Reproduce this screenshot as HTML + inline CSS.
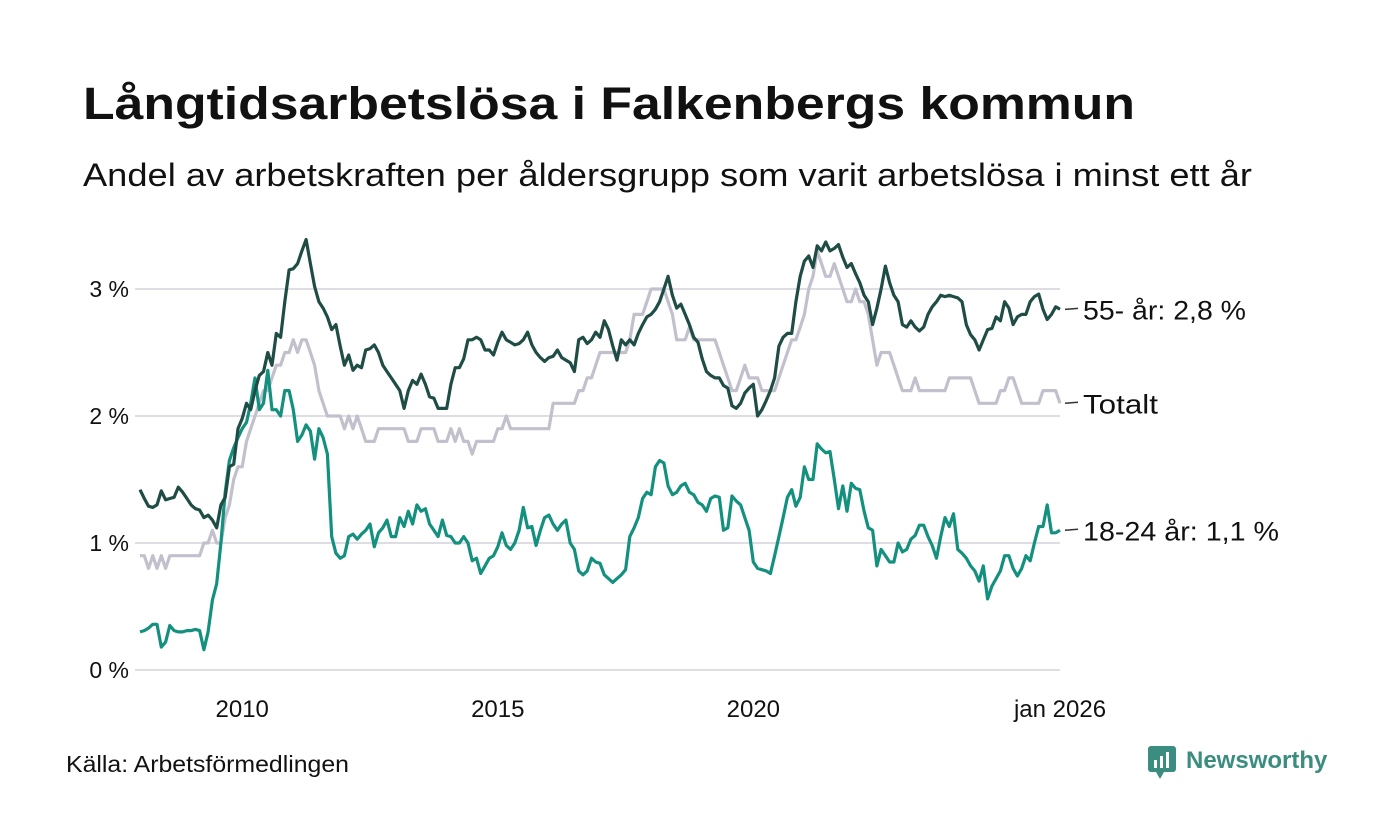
<!DOCTYPE html>
<html><head><meta charset="utf-8">
<style>
html,body{margin:0;padding:0;background:#fff;}
svg{display:block;font-family:"Liberation Sans",sans-serif;}
</style></head>
<body>
<svg id="chart" width="1400" height="840" viewBox="0 0 1400 840" xmlns="http://www.w3.org/2000/svg">
<rect width="1400" height="840" fill="#fff"/>
<text x="83" y="119" font-size="45" font-weight="bold" fill="#111" textLength="1052" lengthAdjust="spacingAndGlyphs">Långtidsarbetslösa i Falkenbergs kommun</text>
<text x="83" y="186" font-size="32" fill="#111" textLength="1169" lengthAdjust="spacingAndGlyphs">Andel av arbetskraften per åldersgrupp som varit arbetslösa i minst ett år</text>
<g id="grid"></g>
<g id="yticks"></g>
<g id="xticks"></g>
<g id="series"></g>
<g id="labels"></g>
<text x="66" y="772" font-size="23" fill="#111" textLength="283" lengthAdjust="spacingAndGlyphs">Källa: Arbetsförmedlingen</text>
<g>
<rect x="1148" y="746" width="28" height="26" rx="3" fill="#3a8d7f"/>
<polygon points="1156,772 1164,772 1160,779" fill="#3a8d7f"/>
<rect x="1154" y="760" width="3" height="8" fill="#fff"/><rect x="1160" y="756" width="3" height="12" fill="#fff"/><rect x="1166" y="752" width="3" height="16" fill="#fff"/>
<text x="1186" y="768" font-size="24" font-weight="bold" fill="#3a8d7f">Newsworthy</text>
</g>
</svg>
<script>
const startYear = 2008;
const yTicks = [0, 1, 2, 3];
const xTickYears = [2010, 2015, 2020];
const xLastLabel = "jan 2026";
const seriesNames = ["Totalt", "55- år", "18-24 år"];
const totalt = [
0.9,0.9,0.8,0.9,0.8,0.9,0.8,0.9,0.9,0.9,0.9,0.9,
0.9,0.9,0.9,1.0,1.0,1.1,1.0,1.0,1.2,1.3,1.5,1.6,
1.6,1.8,1.9,2.0,2.1,2.2,2.2,2.3,2.4,2.4,2.5,2.5,
2.6,2.5,2.6,2.6,2.5,2.4,2.2,2.1,2.0,2.0,2.0,2.0,
1.9,2.0,1.9,2.0,1.9,1.8,1.8,1.8,1.9,1.9,1.9,1.9,
1.9,1.9,1.9,1.8,1.8,1.8,1.9,1.9,1.9,1.9,1.8,1.8,
1.8,1.9,1.8,1.9,1.8,1.8,1.7,1.8,1.8,1.8,1.8,1.8,
1.9,1.9,2.0,1.9,1.9,1.9,1.9,1.9,1.9,1.9,1.9,1.9,
1.9,2.1,2.1,2.1,2.1,2.1,2.1,2.2,2.2,2.3,2.3,2.4,
2.5,2.5,2.5,2.5,2.5,2.5,2.5,2.6,2.8,2.8,2.8,2.9,
3.0,3.0,3.0,3.0,2.9,2.8,2.6,2.6,2.6,2.7,2.6,2.6,
2.6,2.6,2.6,2.6,2.5,2.4,2.3,2.2,2.2,2.3,2.4,2.3,
2.3,2.3,2.2,2.2,2.2,2.2,2.3,2.4,2.5,2.6,2.6,2.7,
2.8,3.0,3.1,3.3,3.2,3.1,3.1,3.2,3.1,3.0,2.9,2.9,
3.0,2.9,2.9,2.8,2.6,2.4,2.5,2.5,2.5,2.4,2.3,2.2,
2.2,2.2,2.3,2.2,2.2,2.2,2.2,2.2,2.2,2.2,2.3,2.3,
2.3,2.3,2.3,2.3,2.2,2.1,2.1,2.1,2.1,2.1,2.2,2.2,
2.3,2.3,2.2,2.1,2.1,2.1,2.1,2.1,2.2,2.2,2.2,2.2,
2.1];
const age55 = [
1.42,1.35,1.29,1.28,1.3,1.41,1.34,1.35,1.36,1.44,1.4,1.35,
1.3,1.27,1.26,1.2,1.22,1.18,1.12,1.3,1.36,1.6,1.62,1.9,
1.98,2.1,2.05,2.2,2.32,2.35,2.5,2.4,2.65,2.62,2.9,3.15,
3.16,3.2,3.3,3.39,3.2,3.02,2.9,2.85,2.78,2.68,2.72,2.55,
2.4,2.48,2.36,2.4,2.38,2.52,2.53,2.56,2.5,2.4,2.35,2.3,
2.25,2.2,2.06,2.2,2.28,2.25,2.33,2.25,2.15,2.14,2.06,2.06,
2.06,2.25,2.38,2.38,2.45,2.6,2.6,2.62,2.6,2.52,2.52,2.48,
2.58,2.66,2.6,2.58,2.56,2.57,2.6,2.66,2.56,2.5,2.46,2.43,
2.46,2.47,2.52,2.46,2.44,2.42,2.35,2.6,2.62,2.57,2.6,2.66,
2.62,2.75,2.68,2.55,2.44,2.6,2.56,2.6,2.56,2.65,2.72,2.78,
2.8,2.84,2.9,3.0,3.1,2.95,2.85,2.88,2.8,2.72,2.62,2.58,
2.45,2.35,2.32,2.3,2.3,2.24,2.22,2.08,2.06,2.1,2.18,2.22,
2.25,2.0,2.05,2.12,2.2,2.3,2.55,2.62,2.65,2.65,2.9,3.1,
3.22,3.26,3.17,3.34,3.3,3.37,3.3,3.32,3.35,3.25,3.17,3.2,
3.12,3.05,2.95,2.9,2.72,2.85,3.0,3.18,3.05,2.95,2.9,2.72,
2.7,2.75,2.7,2.67,2.7,2.8,2.86,2.9,2.95,2.94,2.95,2.94,
2.93,2.9,2.72,2.64,2.6,2.52,2.6,2.68,2.69,2.78,2.75,2.9,
2.85,2.72,2.78,2.8,2.8,2.9,2.94,2.96,2.84,2.76,2.8,2.86,
2.84];
const age1824 = [
0.3,0.31,0.33,0.36,0.36,0.18,0.22,0.35,0.31,0.3,0.3,0.31,
0.31,0.32,0.31,0.16,0.3,0.55,0.68,1.0,1.4,1.65,1.75,1.83,
1.9,1.95,2.1,2.3,2.05,2.1,2.36,2.05,2.05,2.0,2.2,2.2,
2.05,1.8,1.85,1.93,1.88,1.66,1.9,1.83,1.7,1.05,0.92,0.88,
0.9,1.05,1.07,1.03,1.07,1.1,1.15,0.97,1.08,1.12,1.18,1.05,
1.05,1.2,1.13,1.25,1.15,1.3,1.25,1.27,1.15,1.1,1.05,1.18,
1.06,1.05,1.0,1.0,1.05,1.0,0.86,0.88,0.76,0.82,0.88,0.9,
0.97,1.08,0.98,0.95,1.0,1.1,1.28,1.12,1.13,0.98,1.1,1.2,
1.22,1.15,1.1,1.15,1.18,1.0,0.95,0.78,0.75,0.78,0.88,0.85,
0.84,0.75,0.72,0.69,0.72,0.75,0.79,1.05,1.12,1.2,1.35,1.4,
1.38,1.6,1.65,1.63,1.45,1.38,1.4,1.45,1.47,1.4,1.38,1.32,
1.3,1.25,1.35,1.37,1.36,1.1,1.12,1.37,1.33,1.3,1.2,1.1,
0.85,0.8,0.79,0.78,0.76,0.9,1.05,1.2,1.36,1.42,1.29,1.36,
1.6,1.5,1.5,1.78,1.74,1.71,1.72,1.5,1.27,1.45,1.25,1.47,
1.43,1.42,1.25,1.12,1.1,0.82,0.95,0.9,0.85,0.85,1.0,0.93,
0.95,1.03,1.06,1.14,1.14,1.05,0.98,0.88,1.05,1.2,1.13,1.23,
0.95,0.92,0.88,0.82,0.78,0.7,0.82,0.56,0.66,0.72,0.78,0.9,
0.9,0.8,0.74,0.8,0.9,0.86,1.0,1.13,1.13,1.3,1.08,1.08,
1.1];
const endLabels = ["55- år: 2,8 %", "Totalt", "18-24 år: 1,1 %"];
const endLabelWidths = [163, 75, 196];

const NS = "http://www.w3.org/2000/svg";
const X0 = 140, X1 = 1060, Y0 = 670, PXPCT = 127;
const nMonths = totalt.length;
function xScale(i){ return X0 + (X1 - X0) * i / (nMonths - 1); }
function xYear(y){ return xScale((y - startYear) * 12); }
function yScale(v){ return Y0 - v * PXPCT; }
function mk(tag, attrs, parent){ const e = document.createElementNS(NS, tag); for (const k in attrs) e.setAttribute(k, attrs[k]); parent.appendChild(e); return e; }

const grid = document.getElementById('grid'), yt = document.getElementById('yticks'), xt = document.getElementById('xticks');
yTicks.forEach(v => {
  const l = mk('line', {x1: 135, x2: 1060, y1: yScale(v), y2: yScale(v), stroke: '#dedde3', 'stroke-width': 2}, grid);
  
  
  const t = mk('text', {x: 129, y: yScale(v) + 8, 'font-size': 23, 'text-anchor': 'end', fill: '#111'}, yt);
  t.textContent = v + ' %';
  
  
});
xTickYears.forEach(y => {
  const t = mk('text', {x: xYear(y), y: 717, 'font-size': 24, 'text-anchor': 'middle', fill: '#111'}, xt);
  t.textContent = y;
  
  
});
const tl = mk('text', {x: xScale(nMonths - 1), y: 717, 'font-size': 24, 'text-anchor': 'middle', fill: '#111'}, xt);
tl.textContent = xLastLabel;



const sg = document.getElementById('series');
function drawLine(arr, color, name){
  const d = arr.map((v, i) => (i ? 'L' : 'M') + xScale(i).toFixed(1) + ',' + yScale(v).toFixed(1)).join(' ');
  const p = mk('path', {d: d, fill: 'none', stroke: color, 'stroke-width': 3.2, 'stroke-linejoin': 'round'}, sg);
  
  
}
drawLine(totalt, '#c3c0cd', 'line-totalt');
drawLine(age1824, '#14907f', 'line-18-24');
drawLine(age55, '#1f4d45', 'line-55-plus');

const lg = document.getElementById('labels');
const lastVals = [age55[nMonths - 1], totalt[nMonths - 1], age1824[nMonths - 1]];
lastVals.forEach((v, k) => {
  const y = yScale(v);
  const l = mk('line', {x1: 1065, x2: 1078, y1: y, y2: y - 1, stroke: '#333', 'stroke-width': 1.5}, lg);
  
  
  const t = mk('text', {x: 1083, y: y + 10, 'font-size': 27, fill: '#111', textLength: endLabelWidths[k], lengthAdjust: 'spacingAndGlyphs'}, lg);
  t.textContent = endLabels[k];
  
  
});
</script>
</body></html>
